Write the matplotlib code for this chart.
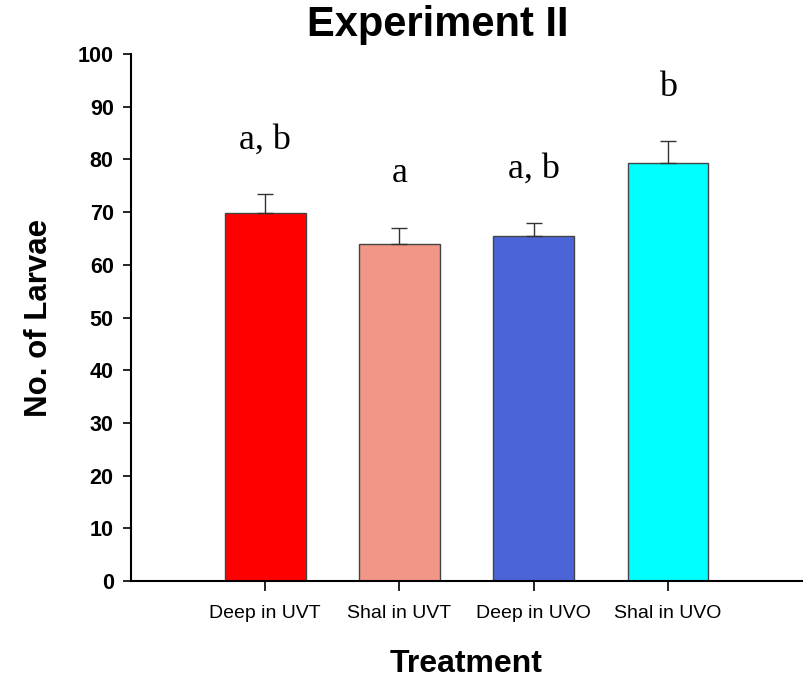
import matplotlib.pyplot as plt

plt.rcParams['font.family'] = ['Liberation Sans', 'DejaVu Sans']

treatments = ["Deep in UVT", "Shal in UVT", "Deep in UVO", "Shal in UVO"]
larvae_mean = [69.8, 64.0, 65.5, 79.3]
larvae_sem = [3.6, 3.0, 2.4, 4.1]
groups = ["a, b", "a", "a, b", "b"]
colors = ["#FF0000", "#F29788", "#4B65D8", "#00FFFF"]

fig = plt.figure(figsize=(8.04, 6.79), dpi=100)
ax = fig.add_axes([0.163, 0.1443, 0.8346, 0.7762])

x = range(len(treatments))
ax.bar(x, larvae_mean, width=0.6, color=colors, edgecolor="#444444", linewidth=1.0, zorder=2)
ax.errorbar(x, larvae_mean, yerr=[[0] * len(larvae_sem), larvae_sem], fmt="none",
            ecolor="#333333", elinewidth=1.0, capsize=6, capthick=1.0, zorder=3)

# significance letters above the error bars
for i, (m, s, g) in enumerate(zip(larvae_mean, larvae_sem, groups)):
    ax.text(i, m + s + 8.7, g, ha="center", va="baseline",
            fontsize=26, family=["Liberation Serif", "DejaVu Serif"])

ax.set_xlim(-1, 4)
ax.set_ylim(0, 100)
ax.set_yticks(range(0, 101, 10))
ax.set_xticks(list(x))
ax.set_xticklabels(treatments, fontsize=14)
for lbl in ax.get_yticklabels():
    lbl.set_fontsize(15.5)
    lbl.set_fontweight("bold")

ax.spines["top"].set_visible(False)
ax.spines["right"].set_visible(False)
ax.spines["left"].set_linewidth(1.5)
ax.spines["bottom"].set_linewidth(1.5)
ax.tick_params(axis="y", length=5.5, width=1.2, pad=7)
ax.tick_params(axis="x", length=7, width=1.2, pad=10)

ax.set_xlabel("Treatment", fontsize=23, fontweight="bold", labelpad=20)
ax.set_ylabel("No. of Larvae", fontsize=22.5, fontweight="bold", labelpad=17)
fig.text(438 / 804, 1 - 25 / 679, "Experiment II", ha="center", va="center",
         fontsize=30, fontweight="bold")

fig.savefig("out.png", dpi=100)
